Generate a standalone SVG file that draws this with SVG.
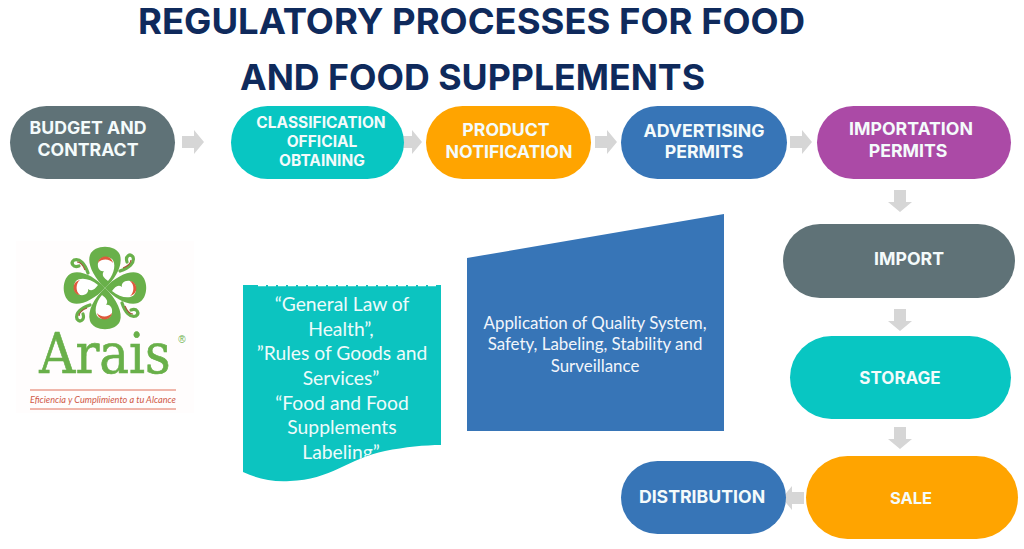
<svg xmlns="http://www.w3.org/2000/svg" width="1024" height="549" viewBox="0 0 1024 549">
<style>
.t{font-family:"Inter","Open Sans","Liberation Sans",sans-serif;font-weight:700;fill:#0f2a5c;font-size:36px;text-anchor:middle}
.n{font-family:"Inter","Open Sans","Liberation Sans",sans-serif;font-weight:700;fill:#f4fbfb;font-size:17.7px;text-anchor:middle}
.c{font-size:15.5px}
.b{font-family:"Lato","Open Sans","Liberation Sans",sans-serif;fill:#eefbfb;font-size:19.3px;text-anchor:middle}
.s{font-family:"Lato","Open Sans","Liberation Sans",sans-serif;fill:#f2f6fb;font-size:16.9px;text-anchor:middle}
.a{fill:#d6d6d6}
</style>
<defs>
<path id="ar" d="M-11-6H1V-12L11 0 1 12V6H-11Z"/>
<clipPath id="docclip"><path d="M243 285H441V445C425 445 405 447 385 451C350 458 330 480 290 481C272 482 258 479 243 472Z"/></clipPath>
<g id="lobe">
<path d="M105 288C93 277 87 263 90 255C94 244 116 244 120 255C123 265 116 278 105 288Z" fill="#69b04a"/>
<path d="M108 281C115 273 116 263 112 259C107 255 99 257 98 263C97 269 101 272 104 271C101 275 104 278 108 281Z" fill="#fff"/>
<path d="M98 263C99 255 111 254 113 263C110 259 102 258 98 263Z" fill="#dd5a3c"/>
</g>
<g id="curl">
<path d="M88 273C85 264 80 258 74 260C70 263 73 268 79 266" fill="none" stroke="#69b04a" stroke-width="3.2" stroke-linecap="round"/>
<path d="M85 270C83 265 80 262 77 262" fill="none" stroke="#a3553a" stroke-width="1.2"/>
</g>
</defs>
<rect width="1024" height="549" fill="#fff"/>
<text class="t" x="471.5" y="34" textLength="667" lengthAdjust="spacingAndGlyphs">REGULATORY PROCESSES FOR FOOD</text>
<text class="t" x="472.5" y="90" textLength="465" lengthAdjust="spacingAndGlyphs">AND FOOD SUPPLEMENTS</text>
<g id="connectors">
<use href="#ar" class="a" transform="translate(193,142)"/>
<use href="#ar" class="a" transform="translate(411,142)"/>
<use href="#ar" class="a" transform="translate(606,142)"/>
<use href="#ar" class="a" transform="translate(801,142)"/>
<use href="#ar" class="a" transform="translate(900,201) rotate(90)"/>
<use href="#ar" class="a" transform="translate(900,320) rotate(90)"/>
<use href="#ar" class="a" transform="translate(900,438) rotate(90)"/>
<use href="#ar" class="a" transform="translate(793,498) rotate(180)"/>
</g>
<g id="budget"><rect x="10" y="106" width="165" height="73" rx="36.5" fill="#5f7277"/><text class="n" x="88" y="134">BUDGET AND</text><text class="n" x="88" y="156">CONTRACT</text></g>
<g id="classification"><rect x="231" y="106" width="173" height="73" rx="36.5" fill="#08c6c2"/><text class="n c" x="321" y="128">CLASSIFICATION</text><text class="n c" x="322" y="147">OFFICIAL</text><text class="n c" x="322" y="166">OBTAINING</text></g>
<g id="notification"><rect x="426" y="106" width="165" height="73" rx="36.5" fill="#ffa400"/><text class="n" x="506" y="136">PRODUCT</text><text class="n" x="509" y="158">NOTIFICATION</text></g>
<g id="advertising"><rect x="621" y="106" width="166" height="73" rx="36.5" fill="#3775b7"/><text class="n" x="704" y="137">ADVERTISING</text><text class="n" x="704" y="158">PERMITS</text></g>
<g id="importation"><rect x="817" y="106" width="194" height="73" rx="36.5" fill="#ab4aa6"/><text class="n" x="911" y="135">IMPORTATION</text><text class="n" x="908" y="157">PERMITS</text></g>
<g id="import"><rect x="783" y="224" width="232" height="74" rx="37" fill="#5f7277"/><text class="n" x="909" y="265">IMPORT</text></g>
<g id="storage"><rect x="790" y="336" width="221" height="83" rx="41.5" fill="#08c6c2"/><text class="n" style="font-size:17px" x="900" y="384">STORAGE</text></g>
<g id="sale"><rect x="806" y="456" width="212" height="83" rx="41.5" fill="#ffa400"/><text class="n" style="font-size:16.5px" x="911" y="504">SALE</text></g>
<g id="distribution"><rect x="621" y="461" width="165" height="73" rx="36.5" fill="#3775b7"/><text class="n" x="702" y="503">DISTRIBUTION</text></g>
<g id="regulations"><g clip-path="url(#docclip)"><rect x="243" y="285" width="198" height="200" fill="#0cc4c0"/>
<text class="b" x="342" y="311">“General Law of</text><text class="b" x="341" y="336">Health”,</text><text class="b" x="342" y="360">”Rules of Goods and</text><text class="b" x="341" y="385">Services”</text><text class="b" x="342" y="410">“Food and Food</text><text class="b" x="342" y="434">Supplements</text><text class="b" x="341" y="459">Labeling”</text></g>
<path d="M258 285.5H436" stroke="#fff" stroke-width="1.5" stroke-dasharray="8 2" fill="none"/></g>
<g id="quality"><path d="M467 258L724 214V431H467Z" fill="#3775b7"/><text class="s" x="595" y="329">Application of Quality System,</text><text class="s" x="595" y="350">Safety, Labeling, Stability and</text><text class="s" x="595" y="372">Surveillance</text></g>
<g id="logo">
<rect x="16" y="241" width="178" height="172" fill="#fffdfd"/>
<use href="#lobe"/>
<use href="#lobe" transform="rotate(90 105 288)"/>
<use href="#lobe" transform="rotate(180 105 288)"/>
<use href="#lobe" transform="rotate(270 105 288)"/>
<use href="#curl"/>
<use href="#curl" transform="rotate(90 105 288)"/>
<use href="#curl" transform="rotate(180 105 288)"/>
<use href="#curl" transform="rotate(270 105 288)"/>
<text transform="translate(105 373) scale(1 1.12)" text-anchor="middle" font-family="DejaVu Serif,Liberation Serif,serif" font-size="50" fill="#69b04a" stroke="#69b04a" stroke-width="0.6">Arais</text>
<text x="182" y="343" text-anchor="middle" font-family="Liberation Sans,sans-serif" font-size="10" fill="#69b04a">®</text>
<path d="M30 390H176M30 409H176" stroke="#e0705a" stroke-width="1"/>
<text x="103" y="403" text-anchor="middle" font-family="Lato,Open Sans,Liberation Sans,sans-serif" font-style="italic" font-size="10" fill="#cf5a48" textLength="146" lengthAdjust="spacingAndGlyphs">Eficiencia y Cumplimiento a tu Alcance</text>
</g>
</svg>
